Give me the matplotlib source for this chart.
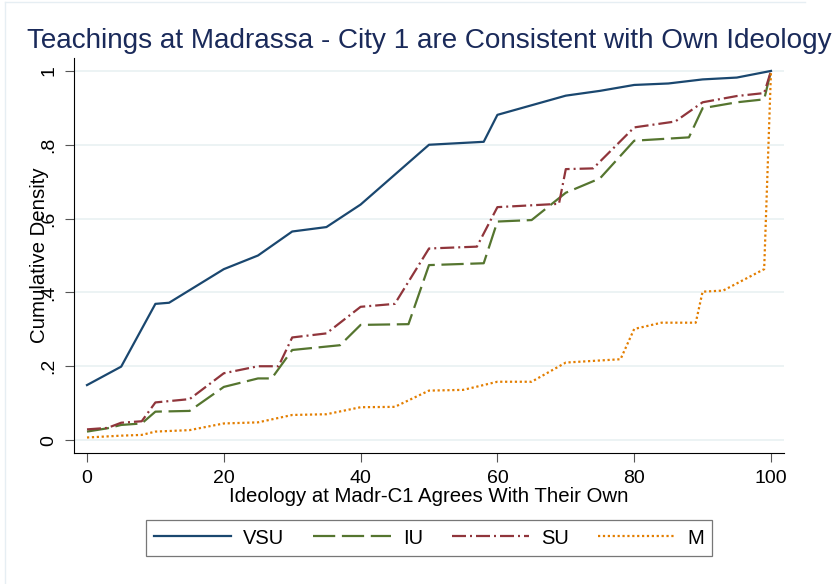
import numpy as np
import matplotlib.pyplot as plt
from matplotlib.lines import Line2D

# cumulative density by ideology score
vsu_x = [0, 5, 10, 12, 20, 25, 30, 35, 40, 50, 58, 60, 70, 75, 80, 85, 90, 95, 100]
vsu_y = [0.149, 0.199, 0.369, 0.372, 0.463, 0.500, 0.565, 0.577, 0.638, 0.800,
         0.808, 0.881, 0.933, 0.946, 0.962, 0.966, 0.977, 0.982, 1.0]

iu_x = [0, 3, 5, 8, 10, 15, 20, 25, 27, 30, 37, 40, 47, 50, 58, 60, 65, 70, 75,
        80, 88, 90, 95, 99, 100]
iu_y = [0.023, 0.032, 0.041, 0.045, 0.077, 0.079, 0.144, 0.167, 0.167, 0.244,
        0.257, 0.312, 0.314, 0.474, 0.479, 0.592, 0.596, 0.670, 0.709, 0.811,
        0.820, 0.899, 0.915, 0.923, 1.0]

su_x = [0, 3, 5, 8, 10, 15, 20, 25, 28, 30, 35, 40, 45, 50, 57, 60, 69, 70, 74,
        80, 86, 90, 95, 99, 100]
su_y = [0.029, 0.033, 0.047, 0.051, 0.102, 0.111, 0.181, 0.200, 0.200, 0.278,
        0.289, 0.361, 0.369, 0.519, 0.524, 0.631, 0.640, 0.734, 0.736, 0.847,
        0.863, 0.915, 0.932, 0.940, 1.0]

m_x = [0, 5, 8, 10, 15, 20, 25, 30, 35, 40, 45, 50, 55, 60, 65, 70, 78, 80, 84,
       89, 90, 93, 99, 100]
m_y = [0.007, 0.012, 0.014, 0.023, 0.027, 0.045, 0.048, 0.068, 0.070, 0.089,
       0.090, 0.134, 0.136, 0.158, 0.158, 0.210, 0.219, 0.301, 0.318, 0.318,
       0.402, 0.405, 0.463, 1.0]

xticks = [0, 20, 40, 60, 80, 100]
yticks = [0, 0.2, 0.4, 0.6, 0.8, 1.0]
ytick_labels = ["0", ".2", ".4", ".6", ".8", "1"]

plt.rcParams["font.family"] = ["Liberation Sans", "DejaVu Sans"]

fig = plt.figure(figsize=(8.4, 5.84), dpi=100)
fig.patch.set_facecolor("white")

# faint graph-region outline (cropped on the right and bottom)
fig.add_artist(Line2D([4.5/840, 4.5/840], [0, 1-1.5/584], color="#e6eef3", lw=1))
fig.add_artist(Line2D([4.5/840, 805/840], [1-1.5/584, 1-1.5/584], color="#e6eef3", lw=1))

ax = fig.add_axes([74/840, 1-453/584, 710/840, 395/584])

ax.plot(vsu_x, vsu_y, "-", color="#1a476f", lw=1.6, label="VSU")
ax.plot(iu_x, iu_y, color="#55752f", lw=1.6, dashes=(10, 3), label="IU")
ax.plot(su_x, su_y, color="#90353b", lw=1.6, dashes=(6.3, 1.8, 0.9, 1.8), label="SU")
ax.plot(m_x, m_y, color="#e37e00", lw=1.6, dashes=(1, 1.2), label="M")

ax.set_xlim(-1.9, 101.9)
ax.set_ylim(-0.035, 1.035)
ax.set_xticks(xticks)
ax.set_yticks(yticks)
ax.set_yticklabels(ytick_labels, rotation=90, va="center")
ax.tick_params(labelsize=14, length=6.3, width=0.8, color="#555555")
ax.tick_params(axis="x", pad=6)
ax.tick_params(axis="y", pad=5.5)
ax.grid(True, axis="y", color="#eaf2f3", lw=1.3)
ax.set_axisbelow(True)
for s in ["top", "right"]:
    ax.spines[s].set_visible(False)

ax.set_xlabel("Ideology at Madr-C1 Agrees With Their Own", fontsize=14.7, labelpad=0)
ax.set_ylabel("Cumulative Density", fontsize=14.7, labelpad=-6)

fig.text(27/840, 1-48/584, "Teachings at Madrassa - City 1 are Consistent with Own Ideology",
         fontsize=20.1, color="#1a2a5a", va="baseline", ha="left")

leg = fig.legend(loc="center", bbox_to_anchor=(429/840, 1-538/584), ncol=4,
                 fontsize=14.5, handlelength=3.83, handletextpad=0.6,
                 columnspacing=1.45, frameon=True, fancybox=False,
                 edgecolor="#555555", borderpad=0.4, borderaxespad=0)
leg.get_frame().set_linewidth(0.9)

fig.savefig("out.png", dpi=100)
